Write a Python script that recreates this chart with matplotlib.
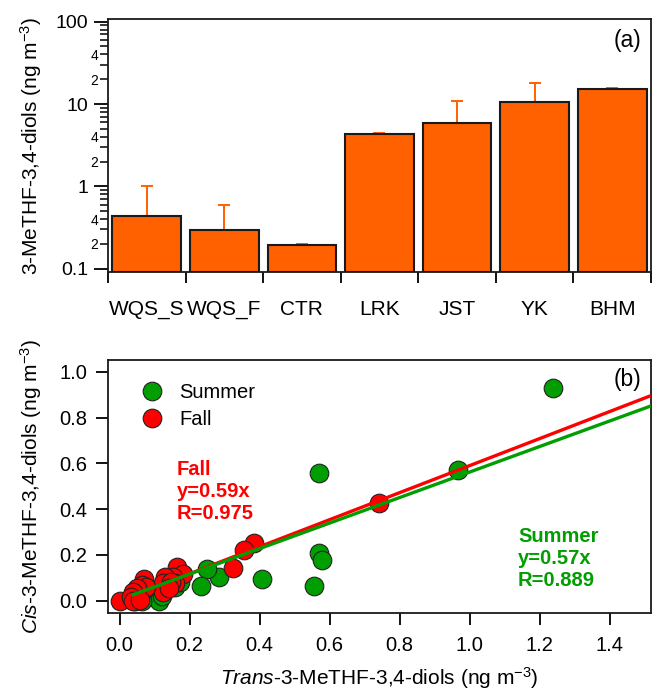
import matplotlib
matplotlib.use("Agg")
import matplotlib.pyplot as plt
import numpy as np
from matplotlib.ticker import FixedLocator, FuncFormatter, NullFormatter

plt.rcParams['font.family'] = ['Liberation Sans', 'DejaVu Sans']
plt.rcParams['mathtext.fontset'] = 'custom'
plt.rcParams['mathtext.rm'] = 'Liberation Sans'
plt.rcParams['mathtext.it'] = 'Liberation Sans:italic'
plt.rcParams['mathtext.bf'] = 'Liberation Sans:bold'

# ---------------- data: panel (a) ----------------
sites = ["WQS_S", "WQS_F", "CTR", "LRK", "JST", "YK", "BHM"]
site_mean = [0.436, 0.295, 0.195, 4.32, 5.93, 10.7, 15.2]
site_err = [0.57, 0.30, 0.006, 0.18, 4.9, 7.5, 0.4]

# ---------------- data: panel (b) ----------------
summer_trans = [1.238, 0.968, 0.569, 0.571, 0.579, 0.556, 0.408, 0.283, 0.251, 0.233,
                0.114, 0.158, 0.063, 0.045, 0.057, 0.172, 0.120]
summer_cis = [0.927, 0.571, 0.556, 0.210, 0.178, 0.064, 0.093, 0.105, 0.138, 0.064,
              0.000, 0.060, 0.000, 0.000, 0.017, 0.080, 0.020]
fall_trans = [0.000, 0.742, 0.385, 0.355, 0.325, 0.164, 0.182, 0.152, 0.129, 0.125,
              0.123, 0.069, 0.063, 0.075, 0.051, 0.039, 0.033, 0.039, 0.158, 0.146,
              0.140, 0.057]
fall_cis = [0.000, 0.425, 0.253, 0.221, 0.144, 0.148, 0.119, 0.105, 0.105, 0.076,
            0.039, 0.093, 0.068, 0.061, 0.054, 0.039, 0.017, 0.000, 0.076, 0.083,
            0.054, 0.003]
fit_slope = {"Summer": 0.557, "Fall": 0.59}
fit_intercept = {"Summer": 0.005, "Fall": 0.0}
fit_label_slope = {"Summer": "0.57", "Fall": "0.59"}
fit_r = {"Summer": "0.889", "Fall": "0.975"}
fit_xstart = 0.035

orange = "#FF6000"
green = "#009E00"
red = "#FF0000"

W, H = 652, 691
fig = plt.figure(figsize=(W / 100, H / 100), dpi=100)

def fx(px):
    return px / W

def fy(py):
    return 1 - py / H

# ---------- panel (a) ----------
axa = fig.add_axes([fx(108), fy(272), fx(651) - fx(108), fy(19.3) - fy(272)])
ylo, yhi = 0.091, 107
x = np.arange(len(sites))
axa.bar(x, np.array(site_mean) - ylo, bottom=ylo, width=0.885, color=orange,
        edgecolor="#1a1a1a", linewidth=1.5, zorder=2)
axa.errorbar(x, site_mean, yerr=[np.zeros(len(site_err)), site_err], fmt="none",
             ecolor=orange, elinewidth=1.4, capsize=4.5, capthick=1.4, zorder=1)
axa.set_yscale("log")
axa.set_ylim(ylo, yhi)
axa.set_xlim(-0.5, len(sites) - 0.5)

majors = [0.1, 1, 10, 100]
major_labels = ["0.1", "1", "10", "100"]
minors = [m * 10.0 ** e for e in range(-1, 2) for m in range(2, 10)]
axa.yaxis.set_major_locator(FixedLocator(majors))
axa.yaxis.set_minor_locator(FixedLocator(minors))

def majfmt(v, p):
    for mv, ml in zip(majors, major_labels):
        if abs(np.log10(v) - np.log10(mv)) < 1e-6:
            return ml
    return ""

def minfmt(v, p):
    m = round(v / 10 ** np.floor(np.log10(v) + 1e-9))
    return str(m) if m in (2, 4) else ""

axa.yaxis.set_major_formatter(FuncFormatter(majfmt))
axa.yaxis.set_minor_formatter(FuncFormatter(minfmt))
axa.tick_params(axis="y", which="major", direction="out", length=10, width=1.3, labelsize=14, pad=4)
axa.tick_params(axis="y", which="minor", direction="out", length=5.5, width=1.1, labelsize=10, pad=1.5)

axa.xaxis.set_major_locator(FixedLocator(np.arange(-0.5, len(sites), 1.0)))
axa.xaxis.set_major_formatter(NullFormatter())
axa.xaxis.set_minor_locator(FixedLocator(x))
axa.set_xticklabels(sites, minor=True)
axa.tick_params(axis="x", which="major", direction="out", length=8, width=1.3)
axa.tick_params(axis="x", which="minor", length=0, labelsize=15, pad=20)
for s in axa.spines.values():
    s.set_linewidth(1.3)
    s.set_color("#1a1a1a")
axa.set_ylabel("3-MeTHF-3,4-diols (ng m$^{-3}$)", fontsize=15)
axa.text(0.956, 0.918, "(a)", transform=axa.transAxes, fontsize=16.5, ha="center", va="center")

# ---------- panel (b) ----------
axb = fig.add_axes([fx(108), fy(612.7), fx(651) - fx(108), fy(360) - fy(612.7)])
axb.scatter(summer_trans, summer_cis, s=180, color=green, edgecolors="#222222",
            linewidths=0.8, zorder=2, label="Summer")
axb.scatter(fall_trans, fall_cis, s=180, color=red, edgecolors="#222222",
            linewidths=0.8, zorder=3, label="Fall")
xl = (-0.033, 1.518)
xx = np.array([fit_xstart, xl[1]])
axb.plot(xx, fit_slope["Fall"] * xx + fit_intercept["Fall"], color=red, lw=2.4, zorder=4,
         solid_capstyle="butt")
axb.plot(xx, fit_slope["Summer"] * xx + fit_intercept["Summer"], color=green, lw=2.4, zorder=5,
         solid_capstyle="butt")
axb.set_xlim(*xl)
axb.set_ylim(-0.052, 1.051)
axb.set_xticks(np.round(np.arange(0, 1.41, 0.2), 1))
axb.set_yticks(np.round(np.arange(0, 1.01, 0.2), 1))
axb.xaxis.set_major_formatter(FuncFormatter(lambda v, p: f"{v:.1f}"))
axb.yaxis.set_major_formatter(FuncFormatter(lambda v, p: f"{v:.1f}"))
axb.tick_params(axis="x", direction="out", length=8.5, width=1.3, labelsize=14.5, pad=8.5)
axb.tick_params(axis="y", direction="out", length=9, width=1.3, labelsize=14.5, pad=6)
for s in axb.spines.values():
    s.set_linewidth(1.3)
    s.set_color("#1a1a1a")
axb.set_ylabel(r"$\it{Cis}$-3-MeTHF-3,4-diols (ng m$^{-3}$)", fontsize=15)
axb.set_xlabel(r"$\it{Trans}$-3-MeTHF-3,4-diols (ng m$^{-3}$)", fontsize=15, labelpad=7)
axb.text(0.956, 0.921, "(b)", transform=axb.transAxes, fontsize=16.5, ha="center", va="center")
leg = axb.legend(loc="upper left", bbox_to_anchor=(0.022, 0.955), frameon=False, fontsize=14.5,
                 handletextpad=0.35, labelspacing=0.38, borderaxespad=0.2, scatteryoffsets=[0.5])
axb.text(0.127, 0.605, f"Fall\ny={fit_label_slope['Fall']}x\nR={fit_r['Fall']}",
         transform=axb.transAxes, color=red, fontsize=14.5, fontweight="bold",
         ha="left", va="top", linespacing=1.2)
axb.text(0.755, 0.341, f"Summer\ny={fit_label_slope['Summer']}x\nR={fit_r['Summer']}",
         transform=axb.transAxes, color=green, fontsize=14.5, fontweight="bold",
         ha="left", va="top", linespacing=1.2)

axa.yaxis.set_label_coords(-0.118, 0.5)
axb.yaxis.set_label_coords(-0.118, 0.5)

fig.savefig("out.png", dpi=100)
